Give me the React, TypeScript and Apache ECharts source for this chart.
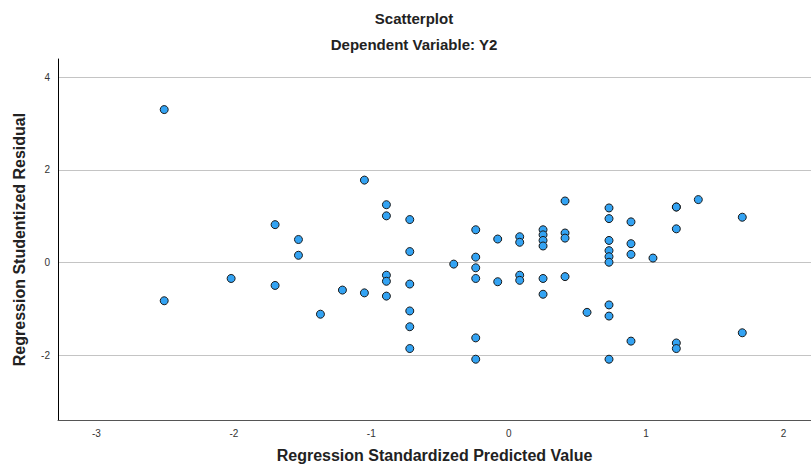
import React, { useEffect, useRef } from "react";
import * as echarts from "echarts";

const predicted: number[] = [
  -2.507, -2.507, -2.02, -1.70, -1.70, -1.53, -1.53, -1.37, -1.21, -1.05, -1.05,
  -0.89, -0.89, -0.89, -0.89, -0.89, -0.72, -0.72, -0.72, -0.72, -0.72, -0.72,
  -0.40, -0.24, -0.24, -0.24, -0.24, -0.24, -0.24, -0.08, -0.08,
  0.08, 0.08, 0.08, 0.08, 0.25, 0.25, 0.25, 0.25, 0.25, 0.25,
  0.41, 0.41, 0.41, 0.41, 0.57,
  0.73, 0.73, 0.73, 0.73, 0.73, 0.73, 0.73, 0.73, 0.73,
  0.89, 0.89, 0.89, 0.89, 1.05,
  1.22, 1.22, 1.22, 1.22, 1.22, 1.38, 1.70, 1.70,
];
const residual: number[] = [
  3.30, -0.82, -0.34, 0.82, -0.49, 0.50, 0.16, -1.11, -0.59, 1.78, -0.65,
  1.25, 1.01, -0.27, -0.40, -0.72, 0.93, 0.24, -0.46, -1.04, -1.38, -1.85,
  -0.03, 0.71, 0.12, -0.11, -0.34, -1.62, -2.08, 0.51, -0.41,
  0.56, 0.44, -0.27, -0.38, 0.71, 0.60, 0.48, 0.36, -0.34, -0.68,
  1.33, 0.64, 0.53, -0.30, -1.07,
  1.18, 0.95, 0.48, 0.26, 0.13, 0.01, -0.91, -1.15, -2.08,
  0.88, 0.41, 0.18, -1.69, 0.10,
  1.20, 1.20, 0.73, -1.73, -1.85, 1.36, 0.98, -1.51,
];

const titleText = "Scatterplot";
const subtitleText = "Dependent Variable: Y2";
const xTitle = "Regression Standardized Predicted Value";
const yTitle = "Regression Studentized Residual";

const FONT = "'Liberation Sans', Arial, sans-serif";

export default function App() {
  const ref = useRef<HTMLDivElement>(null);
  useEffect(() => {
    if (!ref.current) return;
    const chart = echarts.init(ref.current, null, { renderer: "svg" });
    const data = predicted.map((x, i) => [x, residual[i]]);
    chart.setOption({
      animation: false,
      backgroundColor: "#ffffff",
      textStyle: { fontFamily: FONT },
      graphic: [
        {
          type: "text",
          x: 414,
          y: 18,
          style: {
            text: titleText,
            font: `bold 15px ${FONT}`,
            fill: "#222",
            textAlign: "center",
            textVerticalAlign: "middle",
          },
        },
        {
          type: "text",
          x: 414,
          y: 44,
          style: {
            text: subtitleText,
            font: `bold 15px ${FONT}`,
            fill: "#222",
            textAlign: "center",
            textVerticalAlign: "middle",
          },
        },
      ],
      grid: { left: 58, right: 0, top: 59, bottom: 46, containLabel: false },
      xAxis: {
        type: "value",
        min: -3.28,
        max: 2.2,
        splitNumber: 5,
        name: xTitle,
        nameLocation: "middle",
        nameGap: 27,
        nameTextStyle: { fontSize: 16, fontWeight: "bold", color: "#222", fontFamily: FONT },
        axisLine: { show: true, onZero: false, lineStyle: { color: "#555", width: 1 } },
        axisTick: { show: false },
        axisLabel: {
          showMinLabel: false,
          showMaxLabel: false,
          fontSize: 10,
          color: "#333",
          margin: 8,
          fontFamily: FONT,
        },
        splitLine: { show: false },
      },
      yAxis: {
        type: "value",
        min: -3.39,
        max: 4.39,
        splitNumber: 4,
        name: yTitle,
        nameLocation: "middle",
        nameGap: 31,
        nameTextStyle: { fontSize: 16, fontWeight: "bold", color: "#222", fontFamily: FONT },
        axisLine: { show: true, onZero: false, lineStyle: { color: "#000", width: 1 } },
        axisTick: { show: false },
        axisLabel: {
          showMinLabel: false,
          showMaxLabel: false,
          fontSize: 10,
          color: "#333",
          margin: 8,
          fontFamily: FONT,
        },
        splitLine: {
          show: true,
          showMinLine: false,
          showMaxLine: false,
          lineStyle: { color: "#c4c4c4", width: 1 },
        },
      },
      series: [
        {
          type: "scatter",
          data,
          symbol: "circle",
          symbolSize: 8,
          itemStyle: { color: "#33a3f3", borderColor: "#1a1a1a", borderWidth: 1, opacity: 1 },
        },
      ],
    });
    return () => chart.dispose();
  }, []);
  return <div ref={ref} style={{ width: 811, height: 468, position: "absolute", left: 0, top: 0 }} />;
}
